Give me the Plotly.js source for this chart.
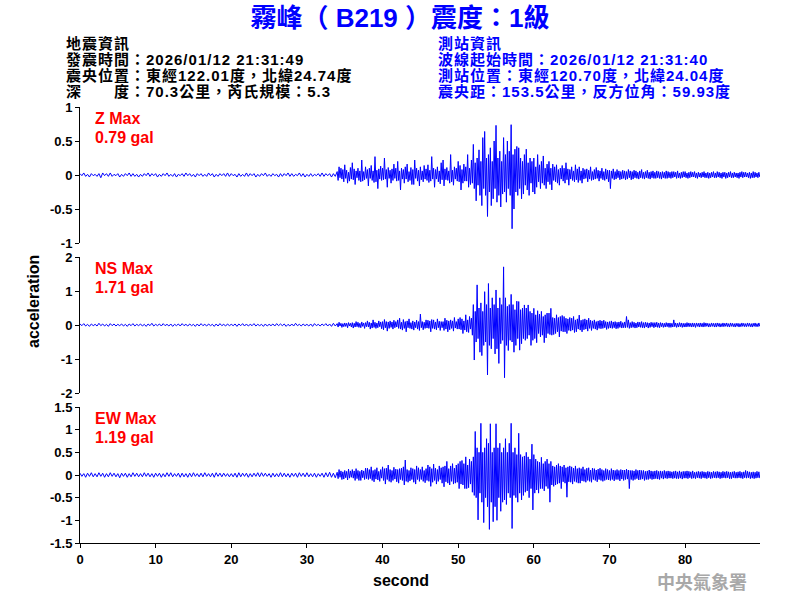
<!DOCTYPE html>
<html><head><meta charset="utf-8">
<script src="https://cdn.plot.ly/plotly-3.0.1.min.js"></script>
<style>html,body{margin:0;padding:0;background:#fff}#chart{width:800px;height:600px}</style>
</head><body><div id="chart"></div>
<script>
// ---------------- DATA ----------------
// Pre-event part sampled every 0.25 s (0 .. 33.75 s),
// strong-motion part sampled every 0.125 s (34 .. 89.875 s).
const preStart = 0, preStep = 0.25;
const postStart = 34, postStep = 0.125;

// Z component (gal)
const zPre = [
0.02,-0.01,0.03,-0.02,0.01,-0.03,0.02,-0.01,
0.01,-0.02,0.02,-0.04,0.03,-0.01,0.02,-0.02,
0.03,-0.02,0.01,-0.01,0.02,-0.03,0.01,-0.02,
0.02,-0.01,0.03,-0.02,0.02,-0.02,0.01,-0.03,
0.01,-0.02,0.02,-0.01,0.03,-0.02,0.02,-0.01,
0.02,-0.03,0.01,-0.02,0.02,-0.01,0.03,-0.02,
0.01,-0.02,0.02,-0.03,0.01,-0.01,0.02,-0.02,
0.03,-0.01,0.02,-0.02,0.01,-0.03,0.02,-0.01,
0.02,-0.02,0.01,-0.02,0.03,-0.01,0.02,-0.03,
0.01,-0.02,0.02,-0.01,0.02,-0.02,0.03,-0.02,
0.02,-0.01,0.01,-0.03,0.02,-0.02,0.01,-0.02,
0.03,-0.02,0.02,-0.01,0.02,-0.03,0.01,-0.02,
0.02,-0.01,0.03,-0.02,0.01,-0.02,0.02,-0.01,
0.01,-0.03,0.02,-0.02,0.02,-0.01,0.03,-0.02,
0.02,-0.02,0.01,-0.01,0.03,-0.02,0.02,-0.03,
0.01,-0.02,0.02,-0.02,0.01,-0.01,0.02,-0.02,
0.03,-0.02,0.02,-0.01,0.02,-0.03,0.02,-0.02
];
const zPost = [
0.05,-0.08,0.12,-0.04,0.1,-0.06,0.08,-0.1,
0.15,-0.05,0.07,-0.12,0.04,-0.09,0.11,-0.06,
0.18,-0.07,0.09,-0.14,0.06,-0.04,0.1,-0.08,
0.06,-0.1,0.22,-0.09,0.05,-0.07,0.12,-0.05,
0.08,-0.16,0.1,-0.05,0.14,-0.08,0.06,-0.11,
0.27,-0.1,0.07,-0.2,0.09,-0.06,0.13,-0.08,
0.1,-0.07,0.25,-0.06,0.08,-0.18,0.11,-0.05,
0.07,-0.12,0.09,-0.08,0.16,-0.05,0.1,-0.09,
0.2,-0.08,0.06,-0.22,0.1,-0.06,0.08,-0.12,
0.12,-0.06,0.16,-0.1,0.05,-0.08,0.11,-0.14,
0.08,-0.14,0.22,-0.05,0.1,-0.09,0.07,-0.16,
0.12,-0.07,0.06,-0.1,0.14,-0.06,0.09,-0.08,
0.15,-0.11,0.07,-0.09,0.27,-0.06,0.1,-0.18,
0.08,-0.06,0.12,-0.1,0.06,-0.13,0.18,-0.07,
0.22,-0.16,0.09,-0.07,0.11,-0.08,0.06,-0.12,
0.3,-0.1,0.07,-0.15,0.12,-0.06,0.1,-0.09,
0.2,-0.1,0.14,-0.22,0.08,-0.12,0.16,-0.09,
0.12,-0.09,0.3,-0.18,0.1,-0.14,0.22,-0.12,
0.45,-0.2,0.18,-0.38,0.25,-0.15,0.37,-0.3,
0.2,-0.45,0.55,-0.2,0.64,-0.3,0.25,-0.61,
0.3,-0.25,0.4,-0.45,0.2,-0.35,0.5,-0.2,
0.73,-0.4,0.25,-0.3,0.35,-0.47,0.2,-0.28,
0.55,-0.25,0.3,-0.4,0.5,-0.2,0.35,-0.3,
0.74,-0.79,0.3,-0.5,0.38,-0.25,0.42,-0.3,
0.4,-0.2,0.25,-0.35,0.2,-0.28,0.3,-0.15,
0.38,-0.22,0.18,-0.3,0.25,-0.12,0.2,-0.25,
0.25,-0.28,0.12,-0.18,0.3,-0.1,0.15,-0.2,
0.2,-0.12,0.28,-0.15,0.1,-0.2,0.16,-0.1,
0.2,-0.14,0.1,-0.22,0.16,-0.08,0.12,-0.1,
0.15,-0.12,0.08,-0.15,0.1,-0.06,0.14,-0.09,
0.1,-0.12,0.18,-0.07,0.09,-0.15,0.08,-0.06,
0.12,-0.08,0.06,-0.1,0.15,-0.07,0.09,-0.11,
0.12,-0.08,0.06,-0.12,0.1,-0.06,0.08,-0.05,
0.09,-0.1,0.07,-0.06,0.12,-0.08,0.05,-0.07,
0.08,-0.06,0.11,-0.05,0.07,-0.09,0.06,-0.05,
0.1,-0.07,0.05,-0.08,0.09,-0.06,0.07,-0.1,
0.07,-0.2,0.06,-0.05,0.09,-0.07,0.05,-0.06,
0.08,-0.04,0.06,-0.07,0.05,-0.06,0.07,-0.05,
0.06,-0.07,0.05,-0.06,0.08,-0.04,0.06,-0.07,
0.05,-0.06,0.07,-0.04,0.06,-0.05,0.04,-0.06,
0.06,-0.04,0.08,-0.05,0.04,-0.06,0.05,-0.04,
0.07,-0.05,0.04,-0.06,0.05,-0.04,0.06,-0.05,
0.04,-0.05,0.06,-0.04,0.05,-0.05,0.04,-0.06,
0.05,-0.04,0.04,-0.05,0.06,-0.05,0.05,-0.04,
0.04,-0.05,0.05,-0.04,0.05,-0.03,0.04,-0.05,
0.06,-0.04,0.03,-0.05,0.04,-0.04,0.05,-0.03,
0.05,-0.04,0.03,-0.05,0.04,-0.04,0.05,-0.03,
0.04,-0.03,0.05,-0.04,0.03,-0.05,0.04,-0.03,
0.03,-0.04,0.04,-0.03,0.05,-0.04,0.03,-0.04,
0.04,-0.05,0.03,-0.04,0.04,-0.03,0.05,-0.04,
0.03,-0.04,0.05,-0.03,0.04,-0.04,0.03,-0.05,
0.04,-0.03,0.04,-0.05,0.03,-0.04,0.04,-0.03,
0.05,-0.04,0.03,-0.04,0.04,-0.03,0.03,-0.04,
0.03,-0.05,0.04,-0.03,0.05,-0.04,0.04,-0.03,
0.04,-0.03,0.03,-0.04,0.04,-0.05,0.03,-0.04,
0.05,-0.04,0.04,-0.03,0.03,-0.04,0.04,-0.03
];

// NS component (gal)
const nsPre = [
0.03,-0.02,0.04,-0.03,0.02,-0.04,0.03,-0.02,
0.02,-0.03,0.05,-0.02,0.03,-0.03,0.02,-0.04,
0.04,-0.02,0.03,-0.03,0.02,-0.02,0.03,-0.03,
0.02,-0.04,0.03,-0.02,0.04,-0.03,0.02,-0.02,
0.03,-0.03,0.02,-0.04,0.03,-0.02,0.05,-0.03,
0.02,-0.02,0.03,-0.03,0.04,-0.02,0.02,-0.03,
0.03,-0.04,0.02,-0.02,0.03,-0.03,0.04,-0.02,
0.02,-0.03,0.03,-0.02,0.02,-0.04,0.03,-0.03,
0.04,-0.02,0.02,-0.03,0.03,-0.02,0.02,-0.04,
0.03,-0.03,0.04,-0.02,0.02,-0.03,0.03,-0.02,
0.02,-0.02,0.03,-0.04,0.03,-0.02,0.04,-0.03,
0.03,-0.03,0.02,-0.02,0.04,-0.03,0.02,-0.02,
0.02,-0.04,0.03,-0.03,0.02,-0.02,0.03,-0.03,
0.04,-0.02,0.03,-0.02,0.03,-0.04,0.02,-0.03,
0.03,-0.03,0.05,-0.02,0.02,-0.03,0.03,-0.02,
0.02,-0.03,0.03,-0.04,0.04,-0.02,0.02,-0.03,
0.03,-0.02,0.04,-0.03,0.03,-0.04,0.05,-0.03
];
const nsPost = [
0.04,-0.06,0.08,-0.03,0.05,-0.07,0.04,-0.05,
0.06,-0.04,0.05,-0.08,0.07,-0.03,0.05,-0.06,
0.07,-0.09,0.05,-0.06,0.1,-0.05,0.08,-0.07,
0.05,-0.08,0.09,-0.04,0.06,-0.1,0.07,-0.05,
0.12,-0.06,0.08,-0.12,0.06,-0.09,0.15,-0.07,
0.08,-0.1,0.06,-0.08,0.12,-0.05,0.09,-0.11,
0.1,-0.14,0.16,-0.08,0.1,-0.18,0.09,-0.1,
0.12,-0.07,0.09,-0.12,0.14,-0.08,0.1,-0.06,
0.15,-0.1,0.2,-0.12,0.08,-0.15,0.16,-0.1,
0.1,-0.2,0.12,-0.08,0.18,-0.1,0.07,-0.12,
0.12,-0.15,0.09,-0.08,0.14,-0.12,0.1,-0.16,
0.32,-0.08,0.1,-0.14,0.08,-0.1,0.15,-0.09,
0.14,-0.1,0.12,-0.2,0.16,-0.1,0.15,-0.12,
0.09,-0.14,0.18,-0.08,0.11,-0.16,0.1,-0.08,
0.1,-0.16,0.2,-0.12,0.14,-0.2,0.12,-0.14,
0.15,-0.1,0.12,-0.18,0.22,-0.09,0.1,-0.12,
0.18,-0.12,0.22,-0.14,0.18,-0.25,0.12,-0.15,
0.3,-0.2,0.15,-0.22,0.25,-0.12,0.2,-0.3,
0.6,-1.03,0.4,-0.5,1.18,-0.4,0.5,-0.8,
0.65,-0.9,0.4,-0.6,0.98,-0.5,0.6,-1.47,
1.22,-0.6,0.5,-0.7,0.8,-0.4,0.6,-0.85,
1.03,-0.7,0.5,-1.13,0.8,-0.55,0.6,-0.45,
1.71,-1.55,0.8,-0.6,0.55,-0.75,0.6,-0.45,
0.9,-0.5,0.6,-0.8,0.45,-0.6,0.7,-0.4,
0.69,-0.74,0.45,-0.55,0.5,-0.4,0.59,-0.45,
0.5,-0.4,0.59,-0.3,0.4,-0.6,0.35,-0.45,
0.49,-0.4,0.3,-0.52,0.42,-0.25,0.32,-0.35,
0.4,-0.3,0.25,-0.52,0.3,-0.38,0.35,-0.25,
0.35,-0.28,0.49,-0.3,0.22,-0.28,0.2,-0.25,
0.3,-0.2,0.22,-0.35,0.25,-0.18,0.28,-0.2,
0.25,-0.2,0.2,-0.25,0.18,-0.16,0.22,-0.18,
0.2,-0.15,0.25,-0.22,0.15,-0.2,0.18,-0.12,
0.29,-0.15,0.14,-0.2,0.16,-0.14,0.18,-0.12,
0.15,-0.18,0.2,-0.1,0.14,-0.16,0.12,-0.1,
0.15,-0.12,0.1,-0.15,0.12,-0.1,0.14,-0.11,
0.12,-0.1,0.14,-0.08,0.1,-0.13,0.09,-0.1,
0.1,-0.09,0.12,-0.1,0.09,-0.08,0.1,-0.11,
0.08,-0.1,0.09,-0.07,0.11,-0.09,0.07,-0.08,
0.09,-0.08,0.25,-0.07,0.15,-0.1,0.07,-0.08,
0.1,-0.07,0.08,-0.09,0.06,-0.08,0.09,-0.06,
0.08,-0.07,0.1,-0.08,0.07,-0.09,0.08,-0.06,
0.07,-0.09,0.06,-0.07,0.08,-0.05,0.07,-0.08,
0.07,-0.06,0.08,-0.07,0.06,-0.08,0.07,-0.05,
0.06,-0.07,0.05,-0.06,0.07,-0.05,0.06,-0.07,
0.06,-0.07,0.05,-0.06,0.15,-0.05,0.06,-0.07,
0.05,-0.06,0.07,-0.05,0.06,-0.07,0.05,-0.06,
0.05,-0.06,0.07,-0.05,0.06,-0.05,0.05,-0.06,
0.06,-0.05,0.05,-0.07,0.06,-0.04,0.05,-0.06,
0.06,-0.05,0.05,-0.06,0.07,-0.05,0.06,-0.04,
0.05,-0.06,0.04,-0.05,0.06,-0.04,0.05,-0.06,
0.05,-0.06,0.06,-0.04,0.05,-0.06,0.04,-0.05,
0.06,-0.05,0.05,-0.04,0.06,-0.05,0.04,-0.06,
0.06,-0.04,0.05,-0.05,0.04,-0.06,0.05,-0.04,
0.05,-0.06,0.04,-0.05,0.06,-0.04,0.05,-0.05,
0.04,-0.05,0.06,-0.04,0.05,-0.05,0.04,-0.06,
0.05,-0.04,0.06,-0.05,0.04,-0.05,0.06,-0.04
];

// EW component (gal)
const ewPre = [
0.04,-0.03,0.03,-0.05,0.04,-0.03,0.05,-0.04,
0.03,-0.04,0.05,-0.03,0.04,-0.05,0.03,-0.04,
0.05,-0.03,0.04,-0.04,0.03,-0.06,0.04,-0.03,
0.04,-0.05,0.03,-0.04,0.05,-0.03,0.04,-0.04,
0.03,-0.04,0.05,-0.03,0.04,-0.04,0.03,-0.05,
0.04,-0.03,0.04,-0.05,0.03,-0.04,0.05,-0.03,
0.05,-0.04,0.03,-0.03,0.04,-0.05,0.04,-0.04,
0.03,-0.05,0.04,-0.04,0.05,-0.03,0.03,-0.04,
0.04,-0.04,0.05,-0.03,0.03,-0.04,0.04,-0.05,
0.05,-0.03,0.04,-0.04,0.04,-0.03,0.03,-0.04,
0.03,-0.04,0.04,-0.05,0.05,-0.04,0.04,-0.03,
0.04,-0.05,0.03,-0.04,0.04,-0.03,0.05,-0.04,
0.05,-0.03,0.04,-0.03,0.03,-0.05,0.04,-0.04,
0.03,-0.04,0.05,-0.04,0.04,-0.04,0.03,-0.05,
0.04,-0.03,0.04,-0.05,0.05,-0.03,0.04,-0.04,
0.05,-0.04,0.03,-0.04,0.04,-0.05,0.03,-0.03,
0.04,-0.05,0.05,-0.04,0.06,-0.05,0.04,-0.06
];
const ewPost = [
0.06,-0.08,0.12,-0.05,0.09,-0.1,0.07,-0.09,
0.1,-0.06,0.08,-0.11,0.13,-0.07,0.09,-0.05,
0.12,-0.07,0.09,-0.12,0.14,-0.08,0.1,-0.12,
0.08,-0.12,0.11,-0.06,0.09,-0.1,0.15,-0.08,
0.15,-0.1,0.12,-0.08,0.18,-0.12,0.1,-0.15,
0.12,-0.09,0.16,-0.11,0.08,-0.14,0.12,-0.07,
0.18,-0.12,0.14,-0.2,0.15,-0.1,0.22,-0.14,
0.12,-0.16,0.1,-0.12,0.17,-0.09,0.13,-0.15,
0.12,-0.18,0.14,-0.1,0.15,-0.12,0.18,-0.22,
0.33,-0.14,0.12,-0.16,0.1,-0.13,0.16,-0.1,
0.14,-0.16,0.12,-0.2,0.2,-0.1,0.16,-0.14,
0.12,-0.1,0.18,-0.14,0.1,-0.17,0.14,-0.12,
0.22,-0.14,0.18,-0.25,0.14,-0.16,0.24,-0.12,
0.15,-0.2,0.12,-0.14,0.2,-0.1,0.16,-0.18,
0.18,-0.26,0.2,-0.15,0.3,-0.18,0.14,-0.22,
0.2,-0.14,0.25,-0.2,0.15,-0.18,0.22,-0.16,
0.25,-0.3,0.3,-0.2,0.32,-0.22,0.25,-0.3,
0.4,-0.3,0.22,-0.28,0.35,-0.2,0.3,-0.38,
0.4,-0.45,0.96,-0.5,0.6,-0.99,0.5,-0.4,
1.14,-0.6,0.5,-1.05,0.6,-0.5,0.8,-0.7,
0.7,-1.2,1.13,-0.6,0.5,-1.03,0.6,-0.7,
1.13,-1.0,0.6,-0.5,0.7,-0.8,0.5,-0.6,
0.6,-0.55,0.8,-0.65,0.5,-0.4,0.7,-0.5,
1.14,-1.18,0.5,-0.45,0.6,-0.5,0.45,-0.6,
0.92,-0.4,0.45,-0.55,0.4,-0.45,0.42,-0.38,
0.5,-0.35,0.4,-0.5,0.35,-0.3,0.68,-0.77,
0.45,-0.4,0.35,-0.33,0.3,-0.4,0.28,-0.3,
0.39,-0.3,0.25,-0.35,0.3,-0.25,0.35,-0.3,
0.25,-0.6,0.3,-0.22,0.2,-0.25,0.18,-0.22,
0.22,-0.2,0.25,-0.18,0.2,-0.3,0.18,-0.15,
0.22,-0.18,0.16,-0.49,0.18,-0.15,0.2,-0.16,
0.18,-0.2,0.15,-0.14,0.2,-0.16,0.14,-0.18,
0.16,-0.18,0.14,-0.13,0.18,-0.14,0.12,-0.16,
0.15,-0.12,0.16,-0.14,0.11,-0.16,0.15,-0.1,
0.14,-0.12,0.11,-0.15,0.13,-0.1,0.15,-0.12,
0.12,-0.14,0.1,-0.12,0.14,-0.1,0.12,-0.11,
0.1,-0.12,0.14,-0.1,0.11,-0.13,0.1,-0.1,
0.12,-0.1,0.1,-0.13,0.12,-0.09,0.11,-0.12,
0.11,-0.1,0.13,-0.09,0.11,-0.3,0.1,-0.1,
0.1,-0.12,0.09,-0.1,0.12,-0.08,0.1,-0.11,
0.11,-0.1,0.1,-0.09,0.1,-0.12,0.08,-0.1,
0.09,-0.1,0.11,-0.08,0.09,-0.1,0.08,-0.09,
0.09,-0.08,0.1,-0.09,0.08,-0.1,0.09,-0.07,
0.08,-0.09,0.1,-0.07,0.08,-0.08,0.09,-0.07,
0.08,-0.07,0.07,-0.08,0.08,-0.07,0.09,-0.08,
0.07,-0.08,0.09,-0.07,0.07,-0.09,0.08,-0.07,
0.08,-0.07,0.09,-0.08,0.08,-0.06,0.07,-0.08,
0.09,-0.07,0.06,-0.08,0.07,-0.06,0.08,-0.07,
0.07,-0.08,0.08,-0.06,0.07,-0.07,0.06,-0.08,
0.08,-0.06,0.07,-0.08,0.06,-0.07,0.08,-0.06,
0.07,-0.07,0.08,-0.06,0.07,-0.08,0.06,-0.07,
0.08,-0.06,0.07,-0.07,0.08,-0.06,0.07,-0.08,
0.06,-0.08,0.07,-0.06,0.08,-0.07,0.06,-0.07,
0.07,-0.06,0.08,-0.07,0.06,-0.08,0.07,-0.06,
0.1,-0.07,0.08,-0.06,0.07,-0.08,0.06,-0.07,
0.07,-0.08,0.06,-0.07,0.08,-0.06,0.07,-0.07
];

const channelNames = ['Z', 'NS', 'EW'];
const channelMaxGal = ['0.79', '1.71', '1.19'];

const xTickVals = [0, 10, 20, 30, 40, 50, 60, 70, 80];
const zTickVals = [-1, -0.5, 0, 0.5, 1];
const zTickText = ['-1', '-0.5', '0', '0.5', '1'];
const nsTickVals = [-2, -1, 0, 1, 2];
const nsTickText = ['-2', '-1', '0', '1', '2'];
const ewTickVals = [-1.5, -1, -0.5, 0, 0.5, 1, 1.5];
const ewTickText = ['-1.5', '-1', '-0.5', '0', '0.5', '1', '1.5'];

const titleText = '霧峰（ B219 ）震度：1級';
const quakeInfo = ['地震資訊', '發震時間：2026/01/12 21:31:49', '震央位置：東經122.01度，北緯24.74度', '深　　度：70.3公里，芮氏規模：5.3'];
const stationInfo = ['測站資訊', '波線起始時間：2026/01/12 21:31:40', '測站位置：東經120.70度，北緯24.04度', '震央距：153.5公里，反方位角：59.93度'];
const xTitle = 'second';
const yTitle = 'acceleration';
const creditText = '中央氣象署';

// ---------------- LAYOUT ----------------
const W = 800, H = 600, L = 80, R = 40, T = 107, B = 57;
const pw = W - L - R, ph = H - T - B;
const px = x => (x - L) / pw;
const py = y => (H - B - y) / ph;

const time = zPre.map((_, i) => preStart + i * preStep)
  .concat(zPost.map((_, i) => postStart + i * postStep));
const zAccel = zPre.concat(zPost);
const nsAccel = nsPre.concat(nsPost);
const ewAccel = ewPre.concat(ewPost);

const latin = 'Liberation Sans, Arial, Noto Sans CJK TC, sans-serif';
const tickFont = {family: latin, size: 13, color: '#000', weight: 'bold'};
const blue = '#0000FF';

function yAxis(domain, range, vals, text) {
  return {
    domain: domain, range: range, tickvals: vals, ticktext: text,
    ticks: 'outside', ticklen: 4, tickwidth: 1, tickcolor: '#000',
    showline: true, linecolor: '#000', linewidth: 1,
    showgrid: false, zeroline: false, tickfont: tickFont, anchor: 'x',
    fixedrange: true
  };
}

const lineStyle = {color: blue, width: 1, simplify: false};
const traces = [
  {x: time, y: zAccel, yaxis: 'y', type: 'scatter', mode: 'lines', line: lineStyle, hoverinfo: 'skip'},
  {x: time, y: nsAccel, yaxis: 'y2', type: 'scatter', mode: 'lines', line: lineStyle, hoverinfo: 'skip'},
  {x: time, y: ewAccel, yaxis: 'y3', type: 'scatter', mode: 'lines', line: lineStyle, hoverinfo: 'skip'}
];

const annotations = [];
const hdrFont = (c) => ({family: latin, size: 15, color: c, weight: 'bold'});
const spaced = s => '<span style="letter-spacing:1px">' + s + '</span>';
const lineY = [44, 60, 75, 91];
quakeInfo.forEach((s, i) => annotations.push({text: spaced(s), xref: 'paper', yref: 'paper', x: px(64), y: py(lineY[i]), xanchor: 'left', yanchor: 'middle', showarrow: false, font: hdrFont('#000')}));
stationInfo.forEach((s, i) => annotations.push({text: spaced(s), xref: 'paper', yref: 'paper', x: px(436), y: py(lineY[i]), xanchor: 'left', yanchor: 'middle', showarrow: false, font: hdrFont(blue)}));

const panelTop = [107, 257, 407];
channelNames.forEach((n, i) => {
  annotations.push({text: n + ' Max', xref: 'paper', yref: 'paper', x: px(93), y: py(panelTop[i] + 11), xanchor: 'left', yanchor: 'middle', showarrow: false, font: {family: latin, size: 16, color: '#FF0000', weight: 'bold'}});
  annotations.push({text: channelMaxGal[i] + ' gal', xref: 'paper', yref: 'paper', x: px(93), y: py(panelTop[i] + 30), xanchor: 'left', yanchor: 'middle', showarrow: false, font: {family: latin, size: 16, color: '#FF0000', weight: 'bold'}});
});

annotations.push({text: xTitle, xref: 'paper', yref: 'paper', x: px(401), y: py(580), xanchor: 'center', yanchor: 'middle', showarrow: false, font: {family: latin, size: 16, color: '#000', weight: 'bold'}});
annotations.push({text: yTitle, xref: 'paper', yref: 'paper', x: px(33), y: py(302), xanchor: 'center', yanchor: 'middle', textangle: -90, showarrow: false, font: {family: latin, size: 16, color: '#000', weight: 'bold'}});
annotations.push({text: creditText, xref: 'paper', yref: 'paper', x: px(702), y: py(581), xanchor: 'center', yanchor: 'middle', showarrow: false, font: {family: 'Noto Sans CJK TC, sans-serif', size: 18, color: '#A8A8A8', weight: 'bold'}});

const layout = {
  width: W, height: H,
  margin: {l: L, r: R, t: T, b: B, pad: 0},
  paper_bgcolor: '#fff', plot_bgcolor: '#fff',
  showlegend: false,
  title: {text: titleText, x: 0.5, xref: 'container', xanchor: 'center', y: 1 - 18 / H, yref: 'container', yanchor: 'middle',
          font: {family: latin, size: 26, color: blue, weight: 'bold'}},
  xaxis: {range: [0, 89.9], anchor: 'y3', tickvals: xTickVals, ticks: 'outside', ticklen: 4, tickwidth: 1, tickcolor: '#000',
          showline: true, linecolor: '#000', linewidth: 1, showgrid: false, zeroline: false, tickfont: tickFont, fixedrange: true},
  yaxis: yAxis([300 / 436, 1], [-1, 1], zTickVals, zTickText),
  yaxis2: yAxis([150 / 436, 286 / 436], [-2, 2], nsTickVals, nsTickText),
  yaxis3: yAxis([0, 136 / 436], [-1.5, 1.5], ewTickVals, ewTickText),
  annotations: annotations
};

Plotly.newPlot('chart', traces, layout, {displayModeBar: false, staticPlot: true});
</script>
</body></html>
